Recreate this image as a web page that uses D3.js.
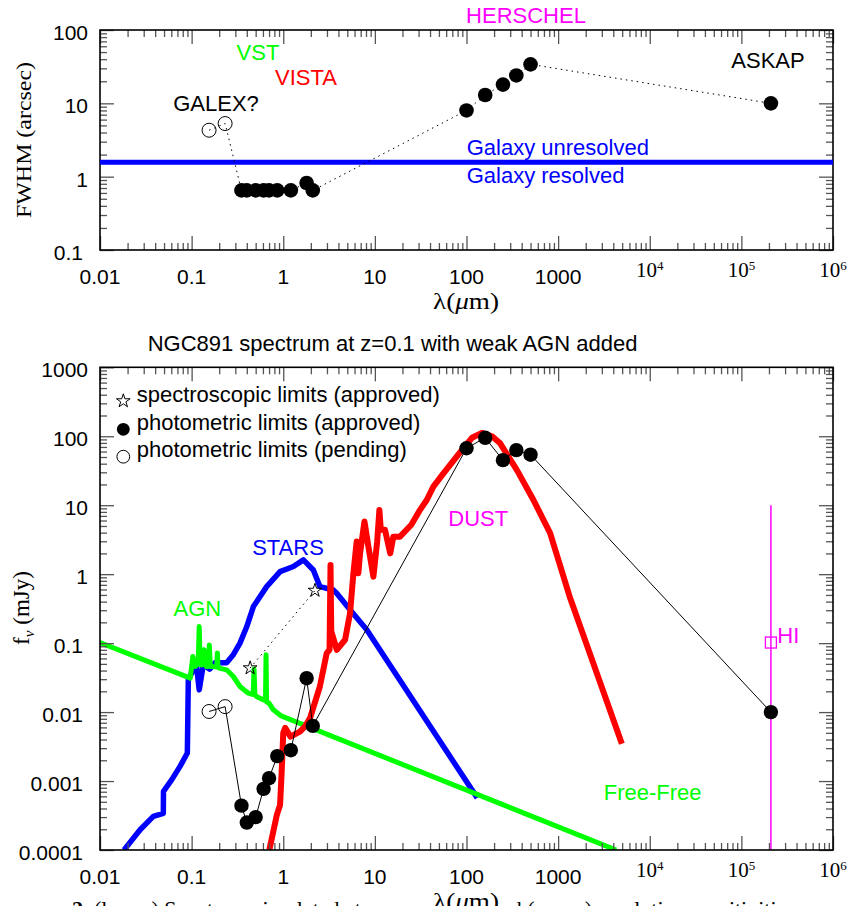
<!DOCTYPE html>
<html>
<head>
<meta charset="utf-8">
<script src="https://cdn.jsdelivr.net/npm/d3@7"></script>
<style>
body { margin: 0; background: #fff; }
svg text { font-family: "Liberation Sans", Arial, sans-serif; }
</style>
</head>
<body>
<svg id="chart" width="849" height="906"></svg>
<script>
// ---------- data ----------
// x axis (shared)
let xTicks = [0.01, 0.1, 1, 10, 100, 1000, 1e4, 1e5, 1e6];
let xTickLabels = ["0.01", "0.1", "1", "10", "100", "1000", "10^4", "10^5", "10^6"];

// upper panel: FWHM (arcsec)
let yTopTicks = [0.1, 1, 10, 100];
let yTopTickLabels = ["0.1", "1", "10", "100"];
let galexLam = [0.155, 0.232];
let galexFwhm = [4.3, 5.3];
let fwhmLam = [0.35, 0.40, 0.50, 0.61, 0.70, 0.86, 1.21, 1.80, 2.10, 100, 160, 250, 350, 500, 2.1e5];
let fwhmVal = [0.65, 0.65, 0.65, 0.65, 0.65, 0.65, 0.65, 0.82, 0.65, 8.0, 13, 18, 24, 34, 10];
let resolvedLimit = 1.57;

// lower panel: f_nu (mJy)
let yBotTicks = [1e-4, 1e-3, 0.01, 0.1, 1, 10, 100, 1000];
let yBotTickLabels = ["0.0001", "0.001", "0.01", "0.1", "1", "10", "100", "1000"];
let specLam = [0.435, 2.22];
let specFlux = [0.0435, 0.58];
let pendLam = [0.155, 0.232];
let pendFlux = [0.0102, 0.012];
let photLam = [0.35, 0.40, 0.50, 0.61, 0.70, 0.86, 1.21, 1.80, 2.10, 100, 160, 250, 350, 500, 2.1e5];
let photFlux = [4.4e-4, 2.5e-4, 3.0e-4, 7.7e-4, 1.1e-3, 2.3e-3, 2.8e-3, 0.031, 6.3e-3, 67, 95, 45, 63, 54, 0.01];
let hiLam = 2.1e5;
let hiFlux = 0.102;
let hiRange = [1e-4, 10];

let starsLam = [0.0183, 0.0274, 0.0382, 0.0491, 0.0493, 0.0605, 0.0747, 0.0898, 0.092, 0.100, 0.1135, 0.121, 0.134, 0.158, 0.18, 0.241, 0.285, 0.337, 0.40, 0.472, 0.659, 0.923, 1.29, 1.66, 2.13, 2.51, 3.52, 3.83, 5.36, 8.15, 131];
let starsFlux = [1e-4, 1.97e-4, 3.07e-4, 3.4e-4, 7.1e-4, 1.04e-3, 1.63e-3, 2.55e-3, 0.0294, 0.0367, 0.0455, 0.021, 0.0485, 0.042, 0.052, 0.052, 0.068, 0.1, 0.174, 0.339, 0.66, 1.09, 1.29, 1.61, 1.15, 0.66, 0.59, 0.53, 0.304, 0.156, 5.7e-4];

let agnLam = [0.01, 0.0966, 0.103, 0.109, 0.118, 0.121, 0.124, 0.1286, 0.1365, 0.144, 0.152, 0.156, 0.160, 0.165, 0.188, 0.191, 0.194, 0.20, 0.241, 0.285, 0.337, 0.416, 0.47, 0.48, 0.49, 0.51, 0.61, 0.64, 0.649, 0.658, 0.70, 0.78, 0.95, 4300];
let agnFlux = [0.102, 0.0311, 0.064, 0.0458, 0.05, 0.174, 0.05, 0.0485, 0.08, 0.046, 0.046, 0.094, 0.046, 0.046, 0.045, 0.072, 0.045, 0.0434, 0.041, 0.0328, 0.0235, 0.0188, 0.018, 0.042, 0.018, 0.0168, 0.015, 0.015, 0.068, 0.014, 0.0135, 0.0108, 0.0088, 1e-4];

let dustLam = [0.705, 0.85, 0.923, 0.96, 1.0, 1.05, 1.2, 1.52, 1.73, 1.96, 2.51, 2.98, 3.2, 3.28, 3.34, 3.84, 4.73, 5.36, 5.83, 6.33, 6.6, 6.89, 7.7, 8.5, 9.64, 10.6, 11.2, 11.6, 12.9, 14.7, 15.9, 18.8, 25, 31, 36.8, 43.5, 56, 88, 115, 147, 190, 233, 354, 538, 818, 1352, 4960];
let dustFlux = [1e-4, 3.2e-4, 4.5e-4, 1.3e-3, 5e-3, 5.9e-3, 4.4e-3, 5.2e-3, 6.2e-3, 8.2e-3, 0.0235, 0.0716, 0.08, 1.36, 0.15, 0.08, 0.112, 0.272, 1.03, 2.97, 1.03, 2.0, 5.8, 2.5, 0.92, 3.0, 8.5, 4.4, 4.4, 2.0, 3.5, 3.5, 5.2, 8.5, 11.9, 18.6, 29, 62, 95, 112, 100, 79, 32.5, 11.9, 3.93, 0.45, 3.47e-3];

// ---------- layout ----------
let svg = d3.select("#chart");
let plotL = 100, plotR = 833;
let topT = 30, topB = 250;
let botT = 367.3, botB = 850;
let serif = "'Liberation Serif', 'DejaVu Serif', serif";
let red = "#ff0000", blue = "#0000ff", green = "#00ff00", magenta = "#ff00ff";

svg.append("rect").attr("width", 849).attr("height", 906).attr("fill", "#fff");

let xTop = d3.scaleLog().domain([0.01, 1e6]).range([plotL, plotR]);
let yTop = d3.scaleLog().domain([0.1, 100]).range([topB, topT]);
let xBot = d3.scaleLog().domain([0.01, 1e6]).range([plotL, plotR]);
let yBot = d3.scaleLog().domain([1e-4, 1000]).range([botB, botT]);

function minorTicks(domain)
{
    let out = [];
    let e0 = Math.round(Math.log10(domain[0]));
    let e1 = Math.round(Math.log10(domain[1]));
    for (let e = e0; e < e1; e++)
        for (let k = 2; k < 10; k++) out.push(+(k * Math.pow(10, e)).toPrecision(3));
    return out;
}

function drawFrame(x, y, yTicks, yLabels)
{
    let g = svg.append("g");
    let [x0, x1] = x.range();
    let [y0, y1] = y.range();
    let sides = [
        [d3.axisBottom, x, "translate(0," + y0 + ")", xTicks],
        [d3.axisTop, x, "translate(0," + y1 + ")", xTicks],
        [d3.axisLeft, y, "translate(" + x0 + ",0)", yTicks],
        [d3.axisRight, y, "translate(" + x1 + ",0)", yTicks]
    ];
    sides.forEach(function(s) {
        let minors = minorTicks(s[1].domain());
        g.append("g").attr("transform", s[2])
            .call(s[0](s[1]).tickValues(s[3]).tickSize(-14).tickFormat(""));
        g.append("g").attr("transform", s[2])
            .call(s[0](s[1]).tickValues(minors).tickSize(-7).tickFormat(""));
    });
    g.selectAll(".domain").remove();
    g.selectAll(".tick line").attr("stroke", "#555").attr("stroke-width", 1.3);
    g.append("rect")
        .attr("x", x0).attr("y", y1)
        .attr("width", x1 - x0).attr("height", y0 - y1)
        .attr("fill", "none").attr("stroke", "#000").attr("stroke-width", 1.6);

    // x tick labels
    xTicks.forEach(function(v, i) {
        let lab = xTickLabels[i];
        if (lab.indexOf("^") >= 0) {
            let parts = lab.split("^");
            let t = g.append("text")
                .attr("x", x(v)).attr("y", y0 + 27)
                .attr("text-anchor", "middle")
                .style("font-family", serif).style("font-size", "21px");
            t.append("tspan").text(parts[0]);
            t.append("tspan").attr("dy", -7).style("font-size", "13px").text(parts[1]);
        } else {
            g.append("text")
                .attr("x", x(v)).attr("y", y0 + 34)
                .attr("text-anchor", "middle")
                .style("font-size", "21px").text(lab);
        }
    });
    // y tick labels
    yTicks.forEach(function(v, i) {
        g.append("text")
            .attr("x", v >= 1 ? 88 : 83).attr("y", y(v) + 10)
            .attr("text-anchor", "end")
            .style("font-size", "21px").text(yLabels[i]);
    });
}

function label(txt, x, y, color, anchor)
{
    svg.append("text").attr("x", x).attr("y", y)
        .attr("text-anchor", anchor || "middle")
        .attr("fill", color).style("font-size", "22px").text(txt);
}

// ---------- upper panel ----------
drawFrame(xTop, yTop, yTopTicks, yTopTickLabels);

svg.append("line")
    .attr("x1", plotL).attr("x2", plotR)
    .attr("y1", yTop(resolvedLimit)).attr("y2", yTop(resolvedLimit))
    .attr("stroke", blue).attr("stroke-width", 5);

let topAll = galexLam.map((l, i) => [l, galexFwhm[i]])
    .concat(fwhmLam.map((l, i) => [l, fwhmVal[i]]));
svg.append("path")
    .attr("d", d3.line().x(d => xTop(d[0])).y(d => yTop(d[1]))(topAll))
    .attr("fill", "none").attr("stroke", "#000")
    .attr("stroke-width", 1).attr("stroke-dasharray", "1.5,4");

svg.selectAll(".galexPt").data(galexLam).enter().append("circle")
    .attr("cx", d => xTop(d)).attr("cy", (d, i) => yTop(galexFwhm[i]))
    .attr("r", 7).attr("fill", "none").attr("stroke", "#000").attr("stroke-width", 1);
svg.selectAll(".fwhmPt").data(fwhmLam).enter().append("circle")
    .attr("cx", d => xTop(d)).attr("cy", (d, i) => yTop(fwhmVal[i]))
    .attr("r", 7.3).attr("fill", "#000");

label("VST", 258, 60, green);
label("VISTA", 306, 85, red);
label("GALEX?", 216, 111, "#000");
label("HERSCHEL", 526, 23, magenta);
label("ASKAP", 768, 67.5, "#000");
label("Galaxy unresolved", 466.7, 155, blue, "start");
label("Galaxy resolved", 466.7, 183, blue, "start");

svg.append("text")
    .attr("transform", "translate(31,140) rotate(-90)")
    .attr("text-anchor", "middle")
    .attr("textLength", 156).attr("lengthAdjust", "spacingAndGlyphs")
    .style("font-family", serif).style("font-size", "21px")
    .text("FWHM (arcsec)");

let xl1 = svg.append("text")
    .attr("x", 466).attr("y", 308.5).attr("text-anchor", "middle")
    .attr("textLength", 66).attr("lengthAdjust", "spacingAndGlyphs")
    .style("font-family", serif).style("font-size", "23px");
xl1.append("tspan").text("λ(");
xl1.append("tspan").style("font-style", "italic").text("μ");
xl1.append("tspan").text("m)");

// ---------- lower panel ----------
svg.append("text")
    .attr("x", 392.5).attr("y", 350.5).attr("text-anchor", "middle")
    .style("font-size", "22px")
    .text("NGC891 spectrum at z=0.1 with weak AGN added");

svg.append("clipPath").attr("id", "botClip")
    .append("rect").attr("x", plotL).attr("y", botT)
    .attr("width", plotR - plotL).attr("height", botB - botT);

let curves = svg.append("g").attr("clip-path", "url(#botClip)");
let lineBot = d3.line().x(d => xBot(d[0])).y(d => yBot(d[1]));

curves.append("path")
    .attr("d", lineBot(starsLam.map((l, i) => [l, starsFlux[i]])))
    .attr("fill", "none").attr("stroke", blue).attr("stroke-width", 5.5)
    .attr("stroke-linejoin", "round");
curves.append("path")
    .attr("d", lineBot(agnLam.map((l, i) => [l, agnFlux[i]])))
    .attr("fill", "none").attr("stroke", green).attr("stroke-width", 5)
    .attr("stroke-linejoin", "round");
curves.append("path")
    .attr("d", lineBot(dustLam.map((l, i) => [l, dustFlux[i]])))
    .attr("fill", "none").attr("stroke", red).attr("stroke-width", 6)
    .attr("stroke-linejoin", "round");

// HI line and point
curves.append("line")
    .attr("x1", xBot(hiLam)).attr("x2", xBot(hiLam))
    .attr("y1", yBot(hiRange[1])).attr("y2", yBot(hiRange[0]))
    .attr("stroke", magenta).attr("stroke-width", 1.5);
curves.append("rect")
    .attr("x", xBot(hiLam) - 5.5).attr("y", yBot(hiFlux) - 5.5)
    .attr("width", 11).attr("height", 11)
    .attr("fill", "none").attr("stroke", magenta).attr("stroke-width", 1.3);

// limits
curves.append("path")
    .attr("d", lineBot(specLam.map((l, i) => [l, specFlux[i]])))
    .attr("fill", "none").attr("stroke", "#000")
    .attr("stroke-width", 1).attr("stroke-dasharray", "1.5,4");
let photAll = pendLam.map((l, i) => [l, pendFlux[i]])
    .concat(photLam.map((l, i) => [l, photFlux[i]]));
curves.append("path")
    .attr("d", lineBot(photAll))
    .attr("fill", "none").attr("stroke", "#000").attr("stroke-width", 1);

let starSym = d3.symbol().type(d3.symbolStar).size(58);
curves.selectAll(".specPt").data(specLam).enter().append("path")
    .attr("d", starSym)
    .attr("transform", (d, i) => "translate(" + xBot(d) + "," + yBot(specFlux[i]) + ")")
    .attr("fill", "none").attr("stroke", "#000").attr("stroke-width", 1);
curves.selectAll(".pendPt").data(pendLam).enter().append("circle")
    .attr("cx", d => xBot(d)).attr("cy", (d, i) => yBot(pendFlux[i]))
    .attr("r", 7).attr("fill", "none").attr("stroke", "#000").attr("stroke-width", 1);
curves.selectAll(".photPt").data(photLam).enter().append("circle")
    .attr("cx", d => xBot(d)).attr("cy", (d, i) => yBot(photFlux[i]))
    .attr("r", 7.2).attr("fill", "#000");

drawFrame(xBot, yBot, yBotTicks, yBotTickLabels);

// legend
svg.append("path").attr("d", starSym).attr("transform", "translate(123.3,401)")
    .attr("fill", "none").attr("stroke", "#000").attr("stroke-width", 1);
svg.append("circle").attr("cx", 123.3).attr("cy", 429.3).attr("r", 6.4).attr("fill", "#000");
svg.append("circle").attr("cx", 123.3).attr("cy", 456.7).attr("r", 6.4)
    .attr("fill", "none").attr("stroke", "#000").attr("stroke-width", 1);
label("spectroscopic limits (approved)", 136.7, 402, "#000", "start");
label("photometric limits (approved)", 136.7, 429.5, "#000", "start");
label("photometric limits (pending)", 136.7, 457, "#000", "start");

label("STARS", 288, 554.5, blue);
label("AGN", 197.3, 616, green);
label("DUST", 478.3, 526.3, magenta);
label("Free-Free", 652.7, 800.3, green);
label("HI", 777.3, 643, magenta, "start");

let yl2 = svg.append("text")
    .attr("transform", "translate(29,608) rotate(-90)")
    .attr("text-anchor", "middle")
    .style("font-family", serif).style("font-size", "23px");
yl2.append("tspan").text("f");
yl2.append("tspan").attr("dy", 5).style("font-size", "15px").style("font-style", "italic").text("ν");
yl2.append("tspan").attr("dy", -5).text(" (mJy)");

// clipped caption below the figure (only the tops of tall letters show)
let cap = svg.append("text").attr("x", 72).attr("y", 915.5)
    .style("font-family", serif).style("font-size", "22px");
cap.append("tspan").style("font-weight", "bold").text("2.");
cap.append("tspan").text(" (lower) Spectrum simulated at");
svg.append("text").attr("x", 490).attr("y", 915.5)
    .style("font-family", serif).style("font-size", "22px")
    .text("and (upper) resolution sensitivities");

let xl2 = svg.append("text")
    .attr("x", 466).attr("y", 908.5).attr("text-anchor", "middle")
    .attr("textLength", 66).attr("lengthAdjust", "spacingAndGlyphs")
    .style("font-family", serif).style("font-size", "23px");
xl2.append("tspan").text("λ(");
xl2.append("tspan").style("font-style", "italic").text("μ");
xl2.append("tspan").text("m)");
</script>
</body>
</html>
